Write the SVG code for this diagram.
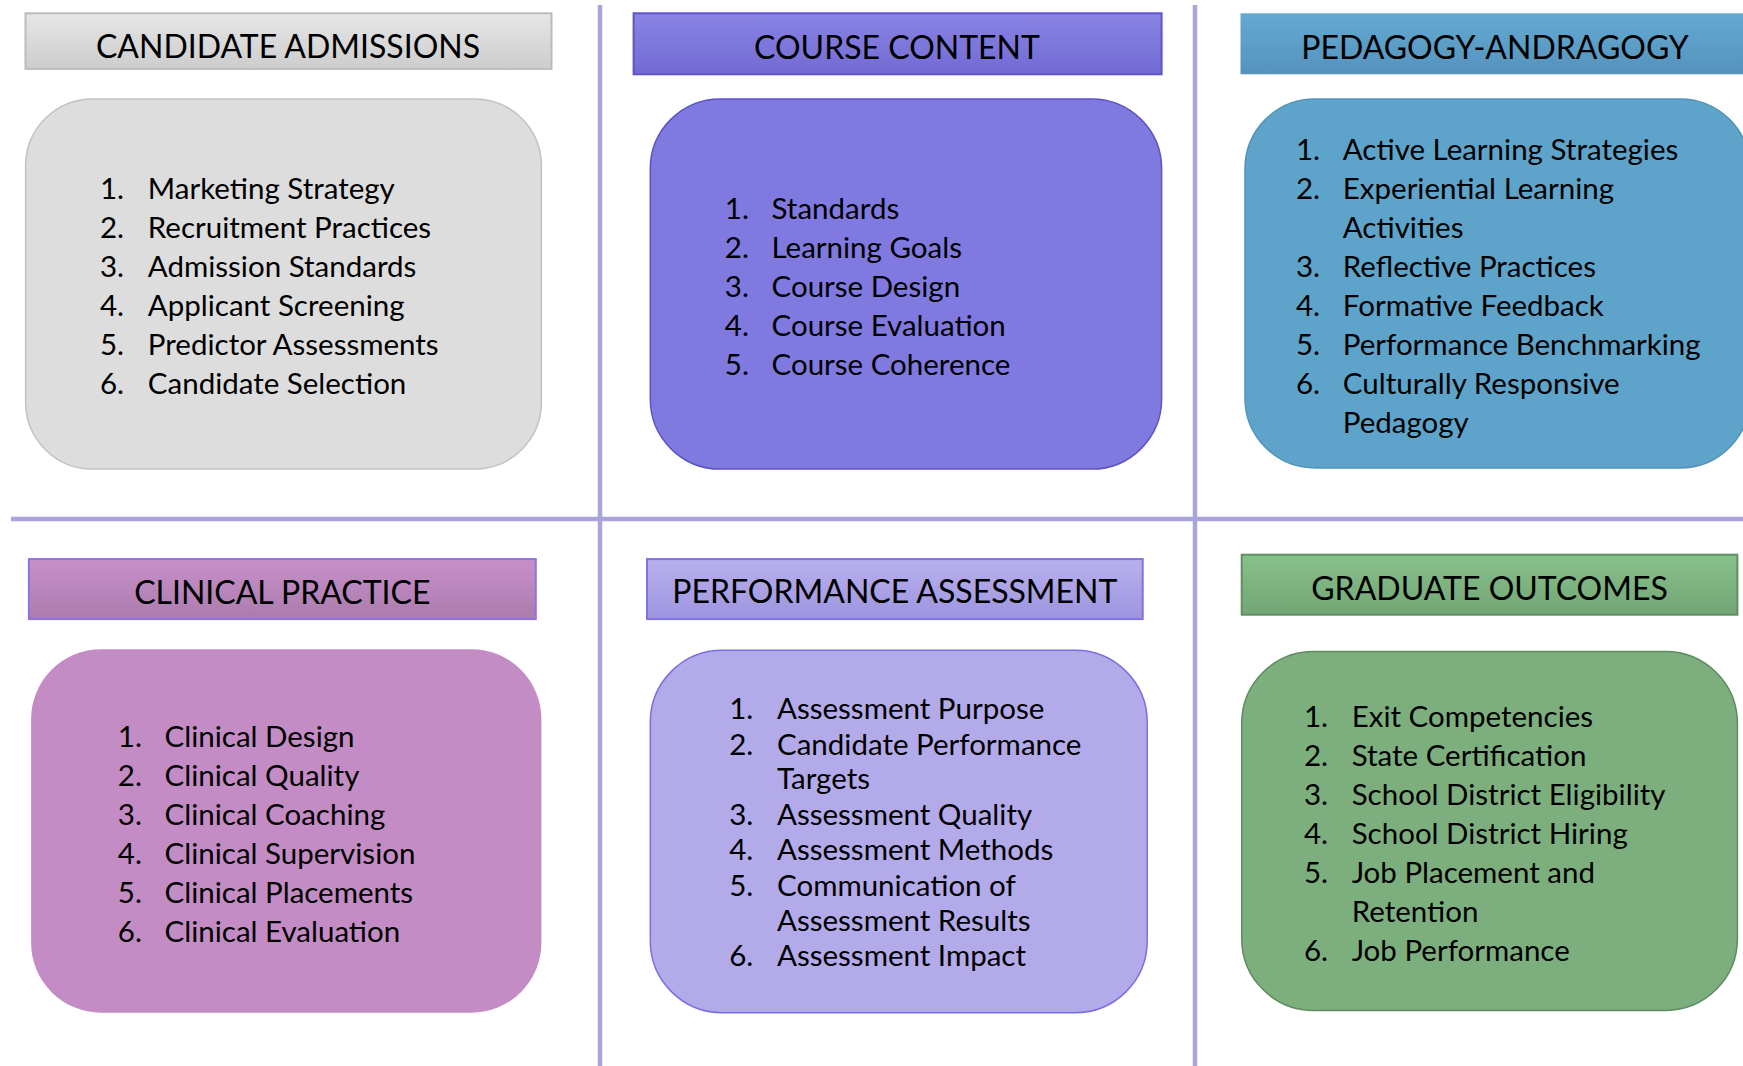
<svg xmlns="http://www.w3.org/2000/svg" width="1743" height="1066" viewBox="0 0 1743 1066">
<defs>
<linearGradient id="gGray" x1="0" y1="0" x2="0" y2="1"><stop offset="0" stop-color="#e6e6e6"/><stop offset="1" stop-color="#cdcdcd"/></linearGradient>
<linearGradient id="gViolet" x1="0" y1="0" x2="0" y2="1"><stop offset="0" stop-color="#8a84e5"/><stop offset="1" stop-color="#726ad2"/></linearGradient>
<linearGradient id="gBlue" x1="0" y1="0" x2="0" y2="1"><stop offset="0" stop-color="#63aad2"/><stop offset="1" stop-color="#5592bc"/></linearGradient>
<linearGradient id="gPink" x1="0" y1="0" x2="0" y2="1"><stop offset="0" stop-color="#c790c9"/><stop offset="1" stop-color="#ab7cae"/></linearGradient>
<linearGradient id="gLav" x1="0" y1="0" x2="0" y2="1"><stop offset="0" stop-color="#b9b1ed"/><stop offset="1" stop-color="#9d94df"/></linearGradient>
<linearGradient id="gGreen" x1="0" y1="0" x2="0" y2="1"><stop offset="0" stop-color="#88c18b"/><stop offset="1" stop-color="#73a575"/></linearGradient>
</defs>
<style>
.hd{font-family:Lato,"Liberation Sans",sans-serif;font-size:32px;fill:#000;text-anchor:middle}
.it{font-family:Lato,"Liberation Sans",sans-serif;font-size:29.5px;fill:#000}
.sep{stroke:#a9a5db;stroke-width:4.5;fill:none}
</style>
<rect width="1743" height="1066" fill="#ffffff"/>
<g id="connectors">
<line class="sep" x1="600" y1="5" x2="600" y2="1066"/>
<line class="sep" x1="1195" y1="5" x2="1195" y2="1066"/>
<line class="sep" x1="11" y1="519" x2="1743" y2="519"/>
</g>
<g id="candidate-admissions">
<rect x="25.5" y="13.3" width="526" height="55.6" fill="url(#gGray)" stroke="#bcbcbc" stroke-width="2"/>
<text class="hd" x="288" y="58">CANDIDATE ADMISSIONS</text>
<rect x="25.6" y="98.9" width="515.8" height="370.2" rx="67" fill="#dddddd" stroke="#c2c2c2" stroke-width="1.5"/>
<text class="it" x="100" y="199">1.</text><text class="it" x="147.8" y="199">Marketing Strategy</text>
<text class="it" x="100" y="238">2.</text><text class="it" x="147.8" y="238">Recruitment Practices</text>
<text class="it" x="100" y="277">3.</text><text class="it" x="147.8" y="277">Admission Standards</text>
<text class="it" x="100" y="316">4.</text><text class="it" x="147.8" y="316">Applicant Screening</text>
<text class="it" x="100" y="355">5.</text><text class="it" x="147.8" y="355">Predictor Assessments</text>
<text class="it" x="100" y="394">6.</text><text class="it" x="147.8" y="394">Candidate Selection</text>
</g>
<g id="course-content">
<rect x="633.6" y="13.3" width="528" height="61" fill="url(#gViolet)" stroke="#5e55c6" stroke-width="2"/>
<text class="hd" x="897" y="58.6">COURSE CONTENT</text>
<rect x="650.3" y="98.9" width="511.3" height="370.2" rx="70" fill="#8079df" stroke="#5d54c4" stroke-width="1.5"/>
<text class="it" x="724.8" y="219">1.</text><text class="it" x="771.5" y="219">Standards</text>
<text class="it" x="724.8" y="258">2.</text><text class="it" x="771.5" y="258">Learning Goals</text>
<text class="it" x="724.8" y="297">3.</text><text class="it" x="771.5" y="297">Course Design</text>
<text class="it" x="724.8" y="336">4.</text><text class="it" x="771.5" y="336">Course Evaluation</text>
<text class="it" x="724.8" y="375">5.</text><text class="it" x="771.5" y="375">Course Coherence</text>
</g>
<g id="pedagogy-andragogy">
<rect x="1240.5" y="13.3" width="510" height="61" fill="url(#gBlue)"/>
<text class="hd" x="1495" y="58.6">PEDAGOGY-ANDRAGOGY</text>
<rect x="1245" y="98.9" width="505" height="369" rx="70" fill="#5ea3c9" stroke="#5293ba" stroke-width="1.5"/>
<text class="it" x="1296" y="160.3">1.</text><text class="it" x="1342.8" y="160.3">Active Learning Strategies</text>
<text class="it" x="1296" y="199.2">2.</text><text class="it" x="1342.8" y="199.2">Experiential Learning</text>
<text class="it" x="1342.8" y="238.1">Activities</text>
<text class="it" x="1296" y="277">3.</text><text class="it" x="1342.8" y="277">Reflective Practices</text>
<text class="it" x="1296" y="315.9">4.</text><text class="it" x="1342.8" y="315.9">Formative Feedback</text>
<text class="it" x="1296" y="354.8">5.</text><text class="it" x="1342.8" y="354.8">Performance Benchmarking</text>
<text class="it" x="1296" y="393.7">6.</text><text class="it" x="1342.8" y="393.7">Culturally Responsive</text>
<text class="it" x="1342.8" y="432.6">Pedagogy</text>
</g>
<g id="clinical-practice">
<rect x="28.9" y="559.1" width="506.9" height="60" fill="url(#gPink)" stroke="#8e72e2" stroke-width="2"/>
<text class="hd" x="282.3" y="604.4">CLINICAL PRACTICE</text>
<rect x="31.1" y="649.2" width="510.3" height="363.5" rx="70" fill="#c48cc5"/>
<text class="it" x="117.8" y="747.2">1.</text><text class="it" x="164.5" y="747.2">Clinical Design</text>
<text class="it" x="117.8" y="786.1">2.</text><text class="it" x="164.5" y="786.1">Clinical Quality</text>
<text class="it" x="117.8" y="825">3.</text><text class="it" x="164.5" y="825">Clinical Coaching</text>
<text class="it" x="117.8" y="863.9">4.</text><text class="it" x="164.5" y="863.9">Clinical Supervision</text>
<text class="it" x="117.8" y="902.8">5.</text><text class="it" x="164.5" y="902.8">Clinical Placements</text>
<text class="it" x="117.8" y="941.7">6.</text><text class="it" x="164.5" y="941.7">Clinical Evaluation</text>
</g>
<g id="performance-assessment">
<rect x="647" y="559.1" width="495.7" height="60" fill="url(#gLav)" stroke="#7f72e2" stroke-width="2"/>
<text class="hd" x="894.8" y="603.3">PERFORMANCE ASSESSMENT</text>
<rect x="650.3" y="650.3" width="496.9" height="362.4" rx="72" fill="#b3aaea" stroke="#7b6fe0" stroke-width="1.5"/>
<text class="it" x="729.2" y="719.4">1.</text><text class="it" x="777" y="719.4">Assessment Purpose</text>
<text class="it" x="729.2" y="754.9">2.</text><text class="it" x="777" y="754.9">Candidate Performance</text>
<text class="it" x="777" y="789.4">Targets</text>
<text class="it" x="729.2" y="825">3.</text><text class="it" x="777" y="825">Assessment Quality</text>
<text class="it" x="729.2" y="859.5">4.</text><text class="it" x="777" y="859.5">Assessment Methods</text>
<text class="it" x="729.2" y="896.1">5.</text><text class="it" x="777" y="896.1">Communication of</text>
<text class="it" x="777" y="930.6">Assessment Results</text>
<text class="it" x="729.2" y="966.2">6.</text><text class="it" x="777" y="966.2">Assessment Impact</text>
</g>
<g id="graduate-outcomes">
<rect x="1241.7" y="554.7" width="495.7" height="60" fill="url(#gGreen)" stroke="#5f8f62" stroke-width="2"/>
<text class="hd" x="1489.5" y="599.9">GRADUATE OUTCOMES</text>
<rect x="1241.7" y="651.4" width="495.7" height="359" rx="72" fill="#7daf7e" stroke="#5c8b5e" stroke-width="1.5"/>
<text class="it" x="1303.9" y="727.2">1.</text><text class="it" x="1351.7" y="727.2">Exit Competencies</text>
<text class="it" x="1303.9" y="766.1">2.</text><text class="it" x="1351.7" y="766.1">State Certification</text>
<text class="it" x="1303.9" y="805">3.</text><text class="it" x="1351.7" y="805">School District Eligibility</text>
<text class="it" x="1303.9" y="843.9">4.</text><text class="it" x="1351.7" y="843.9">School District Hiring</text>
<text class="it" x="1303.9" y="882.8">5.</text><text class="it" x="1351.7" y="882.8">Job Placement and</text>
<text class="it" x="1351.7" y="921.7">Retention</text>
<text class="it" x="1303.9" y="960.6">6.</text><text class="it" x="1351.7" y="960.6">Job Performance</text>
</g>
</svg>
